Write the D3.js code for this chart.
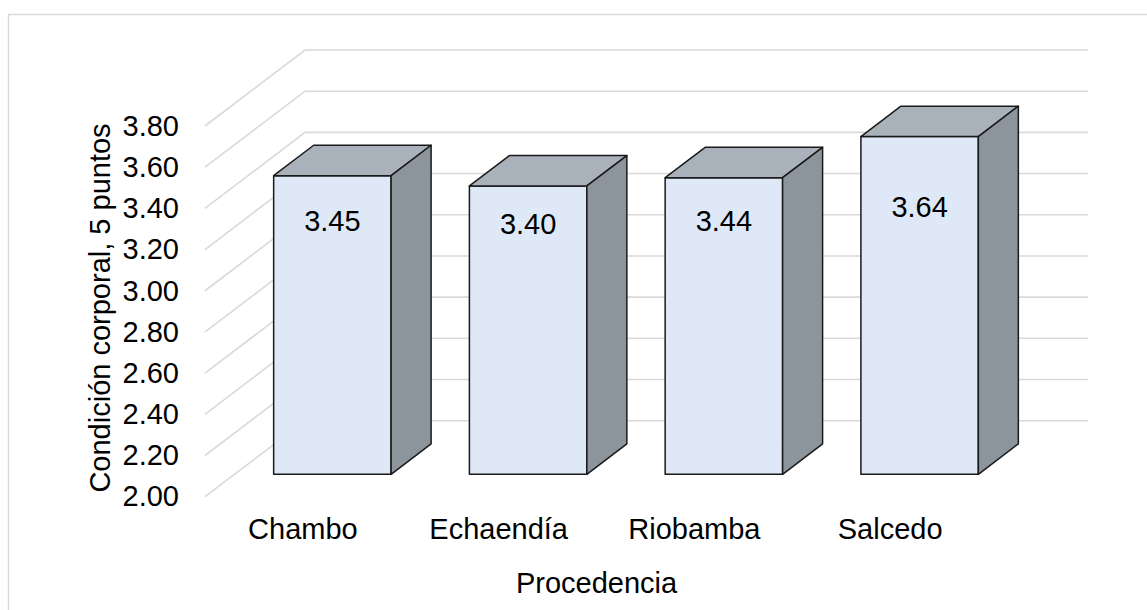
<!DOCTYPE html>
<html>
<head>
<meta charset="utf-8">
<script src="https://cdn.jsdelivr.net/npm/d3@7"></script>
<style>
  html, body { margin: 0; padding: 0; background: #fff; }
  svg { display: block; font-family: "Liberation Sans", Arial, sans-serif; }
</style>
</head>
<body>
<svg id="chart" width="1147" height="610"></svg>
<script>
// Body condition score (5-point scale) by origin
const categories = ["Chambo", "Echaendía", "Riobamba", "Salcedo"];
const values = [3.45, 3.40, 3.44, 3.64];
const tickValues = [2.00, 2.20, 2.40, 2.60, 2.80, 3.00, 3.20, 3.40, 3.60, 3.80];
const yTitle = "Condición corporal, 5 puntos";
const xTitle = "Procedencia";

const W = 1147, H = 610;
const svg = d3.select("#chart");
const fontSize = 29;

// Front edge of the floor and the oblique depth vector of the 3-D box
const floorLeft = 205, floorRight = 988;
const depth = { dx: 100, dy: -76 };
const barFront = 0.295, barBack = 0.695;   // fractions of the depth occupied by the bars

const x = d3.scaleBand().domain(categories).range([floorLeft, floorRight])
  .paddingInner(0.4).paddingOuter(0.2);
const y = d3.scaleLinear().domain([2.0, 3.8]).range([496.7, 126]);

// project a point given front x, value and depth fraction
const P = (px, v, d) => [px + d * depth.dx, y(v) + d * depth.dy];

// chart frame
svg.append("rect")
  .attr("x", 8.5).attr("y", 14.5).attr("width", W + 20).attr("height", H + 20)
  .attr("fill", "none").attr("stroke", "#d9d9d9").attr("stroke-width", 1.5);

// side-wall and back-wall gridlines
const grid = svg.append("g").attr("stroke", "#d9d9d9").attr("stroke-width", 1.6).attr("fill", "none");
tickValues.forEach(t => {
  const a = P(floorLeft, t, 0), b = P(floorLeft, t, 1), c = P(floorRight, t, 1);
  grid.append("path").attr("d", d3.line()([a, b, c]));
});

// bars as 3-D boxes
const bars = svg.append("g")
  .attr("stroke", "#1a1a1a").attr("stroke-width", 1.5).attr("stroke-linejoin", "round");
const base = 2.0;
categories.forEach((cat, i) => {
  const v = values[i];
  const x0 = x(cat), x1 = x(cat) + x.bandwidth();
  const fTL = P(x0, v, barFront), fTR = P(x1, v, barFront);
  const fBL = P(x0, base, barFront), fBR = P(x1, base, barFront);
  const bTL = P(x0, v, barBack), bTR = P(x1, v, barBack), bBR = P(x1, base, barBack);
  const poly = pts => d3.line()(pts) + "Z";
  bars.append("path").attr("d", poly([fTL, fTR, fBR, fBL])).attr("fill", "#dee8f7");
  bars.append("path").attr("d", poly([fTL, bTL, bTR, fTR])).attr("fill", "#a9b2bb");
  bars.append("path").attr("d", poly([fTR, bTR, bBR, fBR])).attr("fill", "#8c949c");
});

// value labels on the bar fronts (placed on a compressed value scale)
const labelY = v => y(base + (v - base) * 0.35) + barFront * depth.dy - 139;
svg.append("g").selectAll("text").data(categories).join("text")
  .attr("x", (d, i) => x(d) + x.bandwidth() / 2 + barFront * depth.dx)
  .attr("y", (d, i) => labelY(values[i]))
  .attr("text-anchor", "middle")
  .attr("font-size", fontSize).attr("fill", "#000")
  .text((d, i) => d3.format(".2f")(values[i]));

// value axis
const yAxis = svg.append("g")
  .attr("transform", `translate(${floorLeft},0)`)
  .call(d3.axisLeft(y).tickValues(tickValues).tickFormat(d3.format(".2f")).tickSize(0).tickPadding(26));
yAxis.select(".domain").remove();
yAxis.selectAll("text").attr("font-size", fontSize).attr("fill", "#000")
  .attr("font-family", "Liberation Sans, Arial, sans-serif");

// category axis
const xAxis = svg.append("g")
  .attr("transform", `translate(0,${y(base)})`)
  .call(d3.axisBottom(x).tickSize(0).tickPadding(22));
xAxis.select(".domain").remove();
xAxis.selectAll("text").attr("font-size", fontSize).attr("fill", "#000")
  .attr("font-family", "Liberation Sans, Arial, sans-serif");

// axis titles
svg.append("text")
  .attr("transform", "translate(110,308) rotate(-90)")
  .attr("text-anchor", "middle").attr("font-size", fontSize).attr("fill", "#000")
  .text(yTitle);
svg.append("text")
  .attr("x", (floorLeft + floorRight) / 2).attr("y", 593)
  .attr("text-anchor", "middle").attr("font-size", fontSize).attr("fill", "#000")
  .text(xTitle);
</script>
</body>
</html>
